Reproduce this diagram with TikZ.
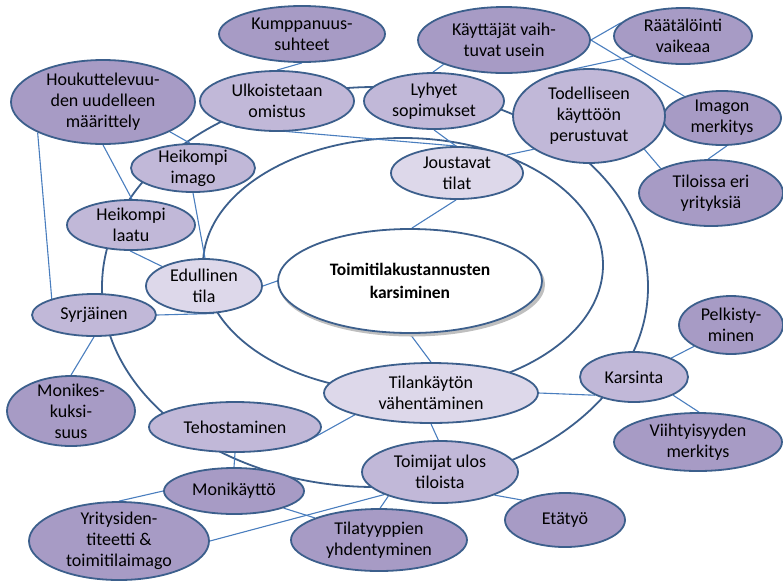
\documentclass[tikz,border=0pt]{standalone}
\usepackage{fontspec}
\setmainfont{Carlito}
\usetikzlibrary{shapes.geometric}

\definecolor{edgeblue}{HTML}{3C5F8C}
\definecolor{linkblue}{HTML}{4A7EBE}
\definecolor{purpleA}{HTML}{A79BC5}
\definecolor{purpleB}{HTML}{C1B8D8}
\definecolor{purpleC}{HTML}{DDD8EA}

\pgfdeclarelayer{background}
\pgfsetlayers{background,main}

\begin{document}
\begin{tikzpicture}[x=1pt, y=-1pt,
  bub/.style={ellipse, draw=edgeblue, line width=1.8pt, inner xsep=-4pt, inner ysep=-3pt,
              align=center, font=\fontsize{18}{21}\selectfont},
  tierA/.style={bub, fill=purpleA},
  tierB/.style={bub, fill=purpleB},
  tierC/.style={bub, fill=purpleC},
  coreblob/.style={bub, fill=white, font=\fontsize{17.5}{23}\selectfont\bfseries},
  thinlink/.style={draw=linkblue, line width=1.1pt},
  orbit/.style={draw=edgeblue, line width=1.8pt}]

\useasboundingbox (0,0) rectangle (783,582);

% shadow under the central bubble
\fill[gray!50] (412,284.5) ellipse [x radius=133, y radius=52];
\node[coreblob, minimum width=264pt, minimum height=104pt] (core) at (410,281)
  {Toimitilakustannusten\\karsiminen};

% outer level
\node[tierA, minimum width=166pt, minimum height=56pt] (kump) at (302,34) {Kumppanuus-\\suhteet};
\node[tierA, minimum width=184pt, minimum height=84pt] (houk) at (103,102) {Houkuttelevuu-\\den uudelleen\\määrittely};
\node[tierA, minimum width=172pt, minimum height=66pt] (kayt) at (504,40) {Käyttäjät vaih-\\tuvat usein};
\node[tierA, minimum width=138pt, minimum height=56pt] (raat) at (683,36) {Räätälöinti\\vaikeaa};
\node[tierA, minimum width=118pt, minimum height=54pt] (imag) at (722,118) {Imagon\\merkitys};
\node[tierA, minimum width=144pt, minimum height=66pt] (tilo) at (711,193) {Tiloissa eri\\yrityksiä};
\node[tierA, minimum width=128pt, minimum height=70pt, inner ysep=-7pt] (moke) at (71,411) {Monikes-\\kuksi-\\suus};
\node[tierA, minimum width=104pt, minimum height=58pt] (pelk) at (731,325) {Pelkisty-\\minen};
\node[tierA, minimum width=168pt, minimum height=58pt] (viih) at (698,442) {Viihtyisyyden\\merkitys};
\node[tierA, minimum width=120pt, minimum height=54pt] (etat) at (565,520) {Etätyö};
\node[tierA, minimum width=140pt, minimum height=46pt] (moni) at (234,491) {Monikäyttö};
\node[tierA, minimum width=180pt, minimum height=78pt, inner ysep=-6pt] (yrit) at (119,541) {Yritysiden-\\titeetti \&\\toimitilaimago};
\node[tierA, minimum width=176pt, minimum height=62pt] (tyyp) at (379,540) {Tilatyyppien\\yhdentyminen};

% middle level
\node[tierB, minimum width=154pt, minimum height=60pt] (ulko) at (277,101) {Ulkoistetaan\\omistus};
\node[tierB, minimum width=124pt, minimum height=48pt, inner ysep=-6pt] (himago) at (193,168) {Heikompi\\imago};
\node[tierB, minimum width=140pt, minimum height=56pt] (lyhy) at (434,101) {Lyhyet\\sopimukset};
\node[tierB, minimum width=152pt, minimum height=94pt] (tode) at (589,116) {Todelliseen\\käyttöön\\perustuvat};
\node[tierB, minimum width=128pt, minimum height=50pt, inner ysep=-5pt] (hlaatu) at (131,225) {Heikompi\\laatu};
\node[tierB, minimum width=124pt, minimum height=42pt] (syrj) at (94,315) {Syrjäinen};
\node[tierB, minimum width=172pt, minimum height=50pt] (teho) at (235,427) {Tehostaminen};
\node[tierB, minimum width=108pt, minimum height=50pt] (kars) at (634,377) {Karsinta};
\node[tierB, minimum width=156pt, minimum height=62pt] (toim) at (440,472) {Toimijat ulos\\tiloista};

% inner level
\node[tierC, minimum width=132pt, minimum height=52pt] (jous) at (457,173) {Joustavat\\tilat};
\node[tierC, minimum width=116pt, minimum height=54pt] (edul) at (204,286) {Edullinen\\tila};
\node[tierC, minimum width=214pt, minimum height=60pt] (tila) at (431,393) {Tilankäytön\\vähentäminen};

\begin{pgfonlayer}{background}
  % the two rings around the central theme
  \draw[orbit] (375,287) ellipse [x radius=273, y radius=200];
  \draw[orbit] (403,265) ellipse [x radius=200, y radius=127];

  % links between themes
  \path[thinlink] (kump.270) -- (ulko.90);
  \path[thinlink] (houk.336) -- (himago.97);
  \path[thinlink] (houk.270) -- (hlaatu.88);
  \path[thinlink] (houk.205) -- (syrj.159);
  \path[thinlink] (himago.270) -- (edul.88);
  \path[thinlink] (hlaatu.268) -- (edul.155);
  \path[thinlink] (syrj.0) -- (edul.290);
  \path[thinlink] (syrj.270) -- (moke.90);
  \path[thinlink] (edul.0) -- (core.180);
  \path[thinlink] (ulko.212) -- (jous.90);
  \path[thinlink] (lyhy.270) -- (jous.92);
  \path[thinlink] (tode.211) -- (jous.20);
  \path[thinlink] (jous.268) -- (core.88);
  \path[thinlink] (lyhy.92) -- (kayt.202);
  \path[thinlink] (kayt.0) -- (raat.168);
  \path[thinlink] (kayt.0) -- (imag.150);
  \path[thinlink] (raat.202) -- (tode.129);
  \path[thinlink] (tode.329) -- (tilo.154);
  \path[thinlink] (imag.280) -- (tilo.95);
  \path[thinlink] (core.270) -- (tila.90);
  \path[thinlink] (tila.196) -- (teho.348);
  \path[thinlink] (tila.270) -- (toim.93);
  \path[thinlink] (tila.0) -- (kars.205);
  \path[thinlink] (kars.27) -- (pelk.210);
  \path[thinlink] (kars.335) -- (viih.88);
  \path[thinlink] (teho.270) -- (moni.90);
  \path[thinlink] (moni.180) -- (yrit.90);
  \path[thinlink] (moni.341) -- (tyyp.161);
  \path[thinlink] (yrit.0) -- (toim.202);
  \path[thinlink] (tyyp.88) -- (toim.205);
  \path[thinlink] (toim.337) -- (etat.155);
\end{pgfonlayer}
\end{tikzpicture}
\end{document}
